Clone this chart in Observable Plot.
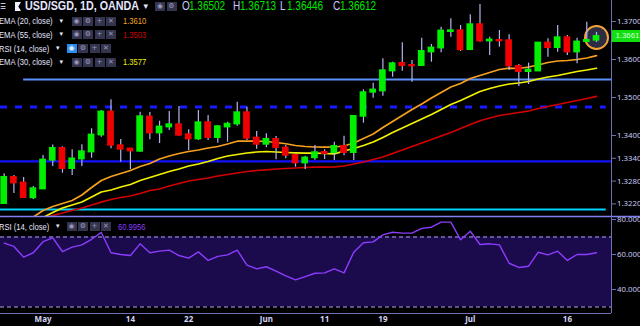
<!DOCTYPE html>
<html><head><meta charset="utf-8">
<script src="https://cdn.jsdelivr.net/npm/d3@7"></script>
<script src="https://cdn.jsdelivr.net/npm/@observablehq/plot@0.6"></script>
<style>
html,body{margin:0;padding:0;background:#000;}
#wrap{position:relative;width:640px;height:326px;overflow:hidden;background:#000;font-family:"Liberation Sans",Arial,sans-serif;color:#e4e4ff;}
#wrap svg{position:absolute;left:0;}
.t{position:absolute;white-space:nowrap;line-height:1;transform-origin:0 50%;}
.ib{position:absolute;width:10px;height:9px;background:#34344e;color:#9a9abc;font-size:7px;line-height:9px;text-align:center;font-family:"DejaVu Sans",sans-serif;}
</style></head><body><div id="wrap"></div>
<script>
// ---------- data ----------
const dates = ["2018-04-25","2018-04-26","2018-04-27","2018-04-30","2018-05-01","2018-05-02","2018-05-03","2018-05-04",
"2018-05-07","2018-05-08","2018-05-09","2018-05-10","2018-05-11","2018-05-14","2018-05-15","2018-05-16","2018-05-17","2018-05-18",
"2018-05-21","2018-05-22","2018-05-23","2018-05-24","2018-05-25","2018-05-28","2018-05-29","2018-05-30","2018-05-31","2018-06-01",
"2018-06-04","2018-06-05","2018-06-06","2018-06-07","2018-06-08","2018-06-11","2018-06-12","2018-06-13","2018-06-14","2018-06-15",
"2018-06-18","2018-06-19","2018-06-20","2018-06-21","2018-06-22","2018-06-25","2018-06-26","2018-06-27","2018-06-28","2018-06-29",
"2018-07-02","2018-07-03","2018-07-04","2018-07-05","2018-07-06","2018-07-09","2018-07-10","2018-07-11","2018-07-12","2018-07-13",
"2018-07-16","2018-07-17","2018-07-18","2018-07-19"];
const opens = [1.32203,1.32903,1.32755,1.32355,1.32587,1.33342,1.33666,1.33124,1.33376,1.33561,
1.34008,1.34624,1.33737,1.33650,1.33579,1.34492,1.34061,1.34218,1.34289,1.34026,
1.33903,1.34342,1.33939,1.34218,1.34297,1.34605,1.33939,1.33763,1.33903,1.33676,
1.33482,1.33271,1.33408,1.33561,1.33545,1.33718,1.33545,1.34500,1.35132,1.35166,
1.35692,1.35903,1.35850,1.35834,1.36192,1.36297,1.36729,1.36763,1.36255,1.36921,
1.36482,1.36508,1.36500,1.35824,1.35676,1.35692,1.36439,1.36308,1.36579,1.36192,
1.36466,1.36502];
const highs = [1.32992,1.32947,1.32895,1.32658,1.33474,1.33750,1.33703,1.33624,1.33755,1.34176,
1.34658,1.34939,1.33895,1.33658,1.34613,1.34605,1.34376,1.34632,1.34763,1.34150,
1.34658,1.34526,1.34263,1.34350,1.34876,1.34745,1.34105,1.34045,1.33974,1.33737,
1.33518,1.33455,1.33737,1.33624,1.33824,1.33982,1.34526,1.35203,1.35376,1.36018,
1.35929,1.36439,1.35974,1.36561,1.36395,1.36850,1.37071,1.36895,1.37176,1.37447,
1.36587,1.36763,1.36650,1.35868,1.35903,1.36447,1.36545,1.36895,1.36632,1.36561,
1.36982,1.36713];
const lows = [1.32184,1.32474,1.32342,1.32316,1.32579,1.33184,1.33008,1.32947,1.33184,1.33403,
1.33955,1.33650,1.33297,1.33100,1.33561,1.33889,1.33789,1.34132,1.33987,1.33605,
1.33868,1.33868,1.33797,1.33824,1.34245,1.33868,1.33639,1.33676,1.33360,1.33387,
1.33166,1.33105,1.33350,1.33368,1.33342,1.33466,1.33342,1.34324,1.34982,1.35034,
1.35534,1.35692,1.35403,1.35834,1.35929,1.36176,1.36587,1.36211,1.36255,1.36455,
1.36105,1.36324,1.35711,1.35289,1.35342,1.35684,1.36061,1.36192,1.36105,1.35887,
1.36455,1.36446];
const closes = [1.32903,1.32745,1.32360,1.32605,1.33360,1.33666,1.33124,1.33389,1.33579,1.34018,
1.34624,1.33737,1.33632,1.33587,1.34500,1.34061,1.34229,1.34289,1.34000,1.33903,
1.34342,1.33939,1.34237,1.34303,1.34605,1.33921,1.33763,1.33903,1.33676,1.33474,
1.33271,1.33413,1.33553,1.33518,1.33718,1.33545,1.34508,1.35132,1.35203,1.35711,
1.35895,1.35834,1.35824,1.36218,1.36308,1.36755,1.36763,1.36250,1.36921,1.36482,
1.36518,1.36482,1.35824,1.35676,1.35729,1.36439,1.36308,1.36579,1.36192,1.36466,
1.36508,1.36612];
const ema20 = [1.31342,1.31513,1.31684,1.31855,1.32026,1.32132,1.32211,1.32289,1.32434,1.32632,
1.32816,1.32921,1.33000,1.33079,1.33184,1.33263,1.33382,1.33461,1.33526,1.33579,
1.33618,1.33671,1.33711,1.33776,1.33850,1.33855,1.33850,1.33842,1.33816,1.33782,
1.33737,1.33711,1.33697,1.33692,1.33697,1.33724,1.33803,1.33921,1.34039,1.34210,
1.34368,1.34526,1.34684,1.34829,1.34987,1.35132,1.35276,1.35368,1.35500,1.35579,
1.35658,1.35737,1.35771,1.35763,1.35803,1.35855,1.35921,1.35961,1.35974,1.36000,
1.36039,1.36100];
const ema30 = [1.31395,1.31513,1.31618,1.31737,1.31842,1.31974,1.32092,1.32171,1.32250,1.32382,
1.32513,1.32566,1.32645,1.32710,1.32816,1.32895,1.32974,1.33053,1.33118,1.33197,
1.33250,1.33316,1.33395,1.33461,1.33500,1.33539,1.33566,1.33579,1.33566,1.33553,
1.33545,1.33534,1.33534,1.33526,1.33518,1.33592,1.33658,1.33737,1.33829,1.33947,
1.34079,1.34197,1.34316,1.34434,1.34553,1.34684,1.34816,1.34921,1.35039,1.35158,
1.35237,1.35303,1.35355,1.35382,1.35421,1.35487,1.35539,1.35579,1.35632,1.35684,
1.35724,1.35770];
const ema55 = [1.31500,1.31579,1.31658,1.31737,1.31816,1.31895,1.31960,1.32026,1.32092,1.32171,
1.32245,1.32316,1.32368,1.32408,1.32474,1.32553,1.32592,1.32671,1.32737,1.32803,
1.32842,1.32882,1.32934,1.32974,1.33013,1.33053,1.33079,1.33097,1.33118,1.33132,
1.33145,1.33158,1.33166,1.33166,1.33176,1.33197,1.33250,1.33303,1.33368,1.33434,
1.33526,1.33618,1.33711,1.33803,1.33895,1.33987,1.34079,1.34184,1.34289,1.34389,
1.34461,1.34526,1.34566,1.34605,1.34645,1.34711,1.34763,1.34816,1.34868,1.34921,
1.34974,1.35030];
const rsi14 = [66.5,64.6,58.5,61.0,67.3,69.5,61.7,64.2,65.5,68.7,
72.6,61.0,60.0,59.4,66.1,61.0,61.9,62.5,59.4,57.9,
61.5,56.6,58.9,59.8,62.5,53.9,51.8,53.0,50.5,47.8,
45.5,47.4,49.3,49.5,51.8,49.5,61.3,66.7,67.2,71.2,
72.7,72.2,72.2,74.9,75.6,78.5,78.5,68.4,73.3,65.7,
66.1,65.5,55.0,52.6,53.3,61.3,59.8,61.9,56.6,60.0,
60.0,60.9956];
const timeTickDates = ["2018-05-01","2018-05-14","2018-05-22","2018-06-01","2018-06-11","2018-06-19","2018-07-02","2018-07-16"];
const timeTickLabels = ["May","14","22","Jun","11","19","Jul","16"];
const priceTicks = [1.370,1.360,1.350,1.340,1.334,1.328,1.322];
const rsiTicks = [80,60,40];
const rsiBand = [30,70];
// horizontal levels: price, first bar index (null = left edge), last bar index (null = right edge)
const levelPrices = [1.35474, 1.34751, 1.33318, 1.32053];
const levelFrom   = [2, null, null, null];
const levelTo     = [null, 62, null, 62];
const levelColors = ["#5b8ff9", "#1a1aff", "#1212ff", "#00d2ff"];
const levelDash   = [null, "7,8", null, null];
const legendEma = [
  {label:"EMA (20, close)", value:"1.3610", color:"#f5a623"},
  {label:"EMA (55, close)", value:"1.3503", color:"#cc0000"},
  {label:"RSI (14, close)", value:null, color:null},
  {label:"EMA (30, close)", value:"1.3577", color:"#f0f000"}
];

// ---------- build ----------
const wrap = document.getElementById("wrap");
const bars = dates.map((d,i)=>({i, date:d, open:opens[i], high:highs[i], low:lows[i], close:closes[i], up: closes[i]>=opens[i]}));
const XD = [-0.381, 62.544];
const YD = [1.318682, 1.375526];
const RD = [26.29, 81.71];
const BW = 0.345;
const axisCol = "#7070b4";
const labCol = "#c8c8f0";
const edge = (v, d) => v == null ? d : v;
const levels = levelPrices.map((p,k)=>({p, a:edge(levelFrom[k], XD[0]), b:edge(levelTo[k], XD[1]), color:levelColors[k], dash:levelDash[k]}));
const last = bars[bars.length-1];

const price = Plot.plot({
  width:640, height:216, marginTop:0, marginLeft:0, marginBottom:0, marginRight:29,
  style:{background:"transparent", overflow:"visible"},
  x:{domain:XD, axis:null}, y:{domain:YD, axis:null},
  marks:[
    ...levels.map(l => Plot.ruleY([l], {y:"p", x1:"a", x2:"b", stroke:l.color, strokeWidth:l.dash?3:2.2, strokeDasharray:l.dash||undefined})),
    Plot.line(bars, {x:"i", y:d=>ema55[d.i], stroke:"#d40000", strokeWidth:1.7, clip:true}),
    Plot.line(bars, {x:"i", y:d=>ema30[d.i], stroke:"#f2f200", strokeWidth:1.7, clip:true}),
    Plot.line(bars, {x:"i", y:d=>ema20[d.i], stroke:"#f5a01e", strokeWidth:1.7, clip:true}),
    Plot.dot([last], {x:"i", y:d=>(d.high+d.low)/2, r:11.5, fill:"#2c2c42", stroke:"#f2a43a", strokeWidth:2}),
    Plot.ruleX(bars, {x:"i", y1:"low", y2:"high", stroke:"#b4b4f0", strokeWidth:1.2, clip:true}),
    Plot.rect(bars.filter(d=>d.up), {x1:d=>d.i-BW, x2:d=>d.i+BW, y1:"open", y2:"close", fill:"#00f000", insetTop:-0.7, insetBottom:-0.7, clip:true}),
    Plot.rect(bars.filter(d=>!d.up), {x1:d=>d.i-BW, x2:d=>d.i+BW, y1:"close", y2:"open", fill:"#f00000", insetTop:-0.7, insetBottom:-0.7, clip:true}),
    Plot.ruleX([XD[1]], {stroke:axisCol, strokeWidth:1}),
    Plot.axisY({anchor:"right", ticks:priceTicks, tickFormat:d=>d.toFixed(4), tickSize:4, tickPadding:1.5, fontSize:7.8, stroke:axisCol, fill:labCol})
  ]
});
price.style.top = "0px";
wrap.appendChild(price);

const tickIdx = timeTickDates.map(d=>dates.indexOf(d));
const rsi = Plot.plot({
  width:640, height:110, marginTop:0, marginLeft:0, marginBottom:13, marginRight:29,
  style:{background:"transparent", overflow:"visible"},
  x:{domain:XD, axis:null}, y:{domain:RD, axis:null},
  marks:[
    Plot.rect([{a:XD[0], b:XD[1], lo:rsiBand[0], hi:rsiBand[1]}], {x1:"a", x2:"b", y1:"lo", y2:"hi", fill:"#1c0b4c"}),
    Plot.ruleY(rsiBand, {stroke:"#b4a4f4", strokeWidth:1, strokeDasharray:"4,3"}),
    Plot.line(bars, {x:"i", y:d=>rsi14[d.i], stroke:"#8c3cff", strokeWidth:1.4}),
    Plot.ruleY([RD[1]], {x1:XD[0], x2:70, stroke:"#8080f0", strokeWidth:1.4}),
    Plot.ruleY([RD[0]], {x1:XD[0], x2:XD[1], stroke:axisCol, strokeWidth:1}),
    Plot.ruleX([XD[1]], {y1:RD[0], y2:RD[1], stroke:axisCol, strokeWidth:1}),
    Plot.axisY({anchor:"right", ticks:rsiTicks, tickFormat:d=>d.toFixed(3), tickSize:4, tickPadding:1.5, fontSize:7.8, stroke:axisCol, fill:labCol}),
    Plot.axisX({ticks:tickIdx, tickFormat:i=>timeTickLabels[tickIdx.indexOf(i)], tickSize:0, tickPadding:3, fontSize:8, fontWeight:"bold", fill:"#d4d4f6"})
  ]
});
rsi.style.top = "216px";
wrap.appendChild(rsi);

// ---------- text overlays ----------
function txt(x, cy, s, size, color, opts={}) {
  const e = document.createElement("div");
  e.className = "t";
  e.style.left = x + "px";
  e.style.top = (cy - 0.5*size) + "px";
  e.style.fontSize = size + "px";
  e.style.color = color;
  if (opts.weight) e.style.fontWeight = opts.weight;
  if (opts.font) e.style.fontFamily = opts.font;
  e.style.transform = "scaleX(" + (opts.sx || 0.8) + ")";
  e.textContent = s;
  wrap.appendChild(e);
  return e;
}
function icons(x0, top, highlight) {
  const glyphs = ["◉","⚙","+","✕"];
  glyphs.forEach((g,k)=>{
    const b = document.createElement("div");
    b.className = "ib";
    b.style.left = (x0 + k*11.5) + "px";
    b.style.top = top + "px";
    b.textContent = g;
    if (highlight && k===0) { b.style.background = "#2a8cf0"; b.style.color = "#e8f4ff"; }
    wrap.appendChild(b);
  });
}
const white = "#e6e6ff";
// header
txt(0, 6.5, "☰", 8, white, {font:"DejaVu Sans", sx:0.8});
const flag = document.createElement("div");
flag.style.cssText = "position:absolute;left:15px;top:2px;width:6px;height:9px;background:#f0f0ff;clip-path:polygon(0 0,100% 0,55% 50%,100% 100%,0 100%);";
wrap.appendChild(flag);
txt(25, 6.5, "USD/SGD, 1D, OANDA", 12.5, white, {weight:"bold", sx:0.86});
txt(143.5, 6.5, "▾", 9, white, {font:"DejaVu Sans", sx:1});
[155, 166.5].forEach((x,k)=>{ const b=document.createElement("div"); b.className="ib"; b.style.left=x+"px"; b.style.top="2px"; b.style.height="9px"; b.textContent=k?"⚙":"◉"; wrap.appendChild(b); });
const green = "#00e800";
const ohlc = [["O",182,opens[61]],["H",233,highs[61]],["L",280,lows[61]],["C",333,closes[61]]];
ohlc.forEach(([k,x,v])=>{ txt(x, 6.5, k, 12.5, "#c8c8ff"); txt(x+7, 6.5, v.toFixed(5), 12.5, green); });
// legend rows
const rowY = [21, 34.5, 48.5, 62];
legendEma.forEach((r,k)=>{
  const cy = rowY[k];
  txt(-1.5, cy, r.label, 9.5, white);
  const isRsi = r.value == null;
  txt(isRsi ? 56 : 59.5, cy, "▾", 7, white, {font:"DejaVu Sans", sx:1});
  icons(isRsi ? 66.5 : 71.5, cy - 4.5, isRsi);
  if (!isRsi) txt(123, cy, r.value, 9.5, r.color);
});
// RSI pane legend
txt(-1.5, 226.5, "RSI (14, close)", 9.5, white);
txt(56, 226.5, "▾", 7, white, {font:"DejaVu Sans", sx:1});
icons(66.5, 222, false);
txt(118, 226.5, rsi14[rsi14.length-1].toFixed(4), 9.5, "#8c3cff");
// current price label on the axis, placed with the chart's own y scale
const yScale = price.scale("y");
const cyLast = yScale.apply(last.close);
const box = document.createElement("div");
box.style.cssText = "position:absolute;left:612px;width:30px;height:12px;background:#10e010;";
box.style.top = (cyLast - 6) + "px";
wrap.appendChild(box);
txt(615.5, cyLast, last.close.toFixed(4), 7.8, "#d8ffd8", {sx:1});
</script></body></html>
